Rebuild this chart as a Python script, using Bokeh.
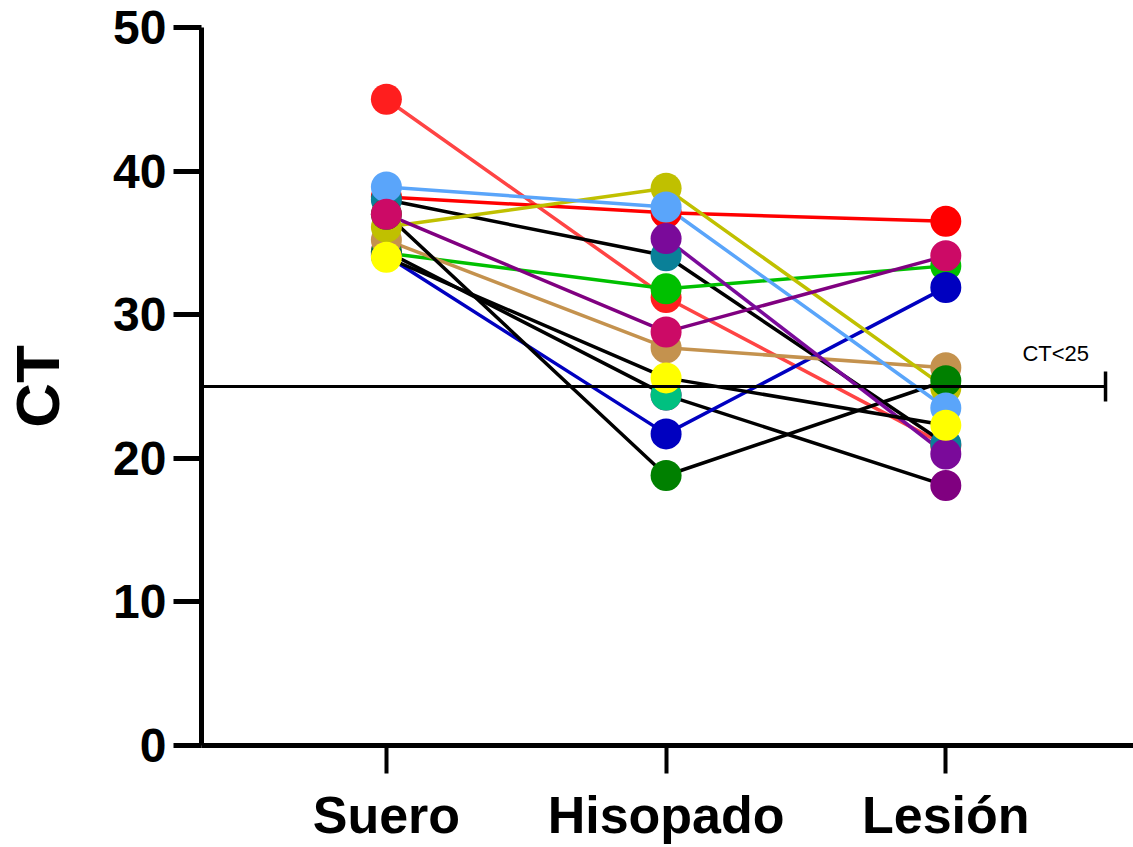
import math
from bokeh.plotting import figure
from bokeh.models import Range1d, FixedTicker
from bokeh.embed import file_html
from bokeh.resources import INLINE
from bokeh.core.properties import value

nan = float("nan")

# ---- data ----
categories = ["Suero", "Hisopado", "Lesión"]
y_ticks = [0, 10, 20, 30, 40, 50]
y_label = "CT"
umbral = 25
umbral_label = "CT<25"

rojo_claro = [45.0, 31.2, 20.9]
rojo = [38.2, 37.1, 36.5]
teal = [38.0, 34.1, 21.0]
canela = [35.2, 27.7, 26.3]
oliva = [36.1, 38.8, 24.9]
azul_claro = [38.9, 37.5, 23.5]
verde = [34.3, 31.8, 33.4]
azul = [34.1, 21.7, 31.9]
carmesi = [37.0, 28.8, 34.1]
purpura = [nan, 35.3, 20.3]
morado = [34.4, 24.4, 18.1]
verde_mar = [nan, 24.4, nan]
verde_oscuro = [37.0, 18.8, 25.4]
amarillo = [34.0, 25.6, 22.3]

# (values, marker colour, line colour) in drawing order
series = [
    (rojo_claro, "#FF1E1E", "#FF4444"),
    (rojo, "#FF0000", "#FF0000"),
    (teal, "#0A8098", "#000000"),
    (morado, "#800080", "#000000"),
    (verde, "#00C000", "#00C000"),
    (azul, "#0000C0", "#0000C0"),
    (canela, "#C4924E", "#C4924E"),
    (oliva, "#C0C000", "#C0C000"),
    (verde_oscuro, "#008000", "#000000"),
    (azul_claro, "#5AA5FA", "#5AA5FA"),
    (carmesi, "#CC0A66", "#800080"),
    (purpura, "#7A0A9A", "#7A0A9A"),
    (verde_mar, "#00C080", "#000000"),
    (amarillo, "#FFFF00", "#000000"),
]

xs = [i + 1 for i in range(len(categories))]

FONT = "Liberation Sans"

x_start, x_end = 0.339, 3.671
p = figure(width=1133, height=847, output_backend="svg", toolbar_location=None,
           x_range=Range1d(x_start, x_end), y_range=Range1d(y_ticks[0], y_ticks[-1]),
           min_border_left=200, min_border_top=27, min_border_bottom=102, min_border_right=0)
p.outline_line_color = None
p.grid.visible = False
p.background_fill_color = "white"
p.border_fill_color = "white"

# lines first
for vals, mc, lc in series:
    p.line(xs, vals, line_color=lc, line_width=3.5)
# markers
for vals, mc, lc in series:
    p.scatter(xs, vals, size=31, fill_color=mc, line_color=None)

# threshold line with end cap
x_cap = 3.571
p.segment(x0=[x_start], y0=[umbral], x1=[x_cap], y1=[umbral], line_color="black", line_width=3)
p.scatter([x_cap], [umbral], marker="dash", angle=math.pi / 2, size=30,
          line_color="black", line_width=3.5)
p.text([3.393], [umbral + 2.3], text=[umbral_label], text_font=value(FONT),
       text_font_size="22px", text_align="center", text_baseline="alphabetic",
       text_color="black")

# axes
xa = p.xaxis[0]
xa.ticker = FixedTicker(ticks=xs)
xa.major_label_overrides = {x: c for x, c in zip(xs, categories)}
xa.axis_line_width = 5
xa.axis_line_color = "black"
xa.major_tick_line_width = 4
xa.major_tick_out = 28
xa.major_tick_in = 0
xa.minor_tick_line_color = None
xa.major_label_text_font = FONT
xa.major_label_text_font_style = "bold"
xa.major_label_text_font_size = "52px"
xa.major_label_text_color = "black"
xa.major_label_standoff = 12

ya = p.yaxis[0]
ya.ticker = FixedTicker(ticks=y_ticks)
ya.axis_line_width = 5
ya.axis_line_color = "black"
ya.major_tick_line_width = 5
ya.major_tick_out = 28
ya.major_tick_in = 0
ya.minor_tick_line_color = None
ya.major_label_text_font = FONT
ya.major_label_text_font_style = "bold"
ya.major_label_text_font_size = "48px"
ya.major_label_text_color = "black"
ya.major_label_standoff = 7
ya.axis_label = y_label
ya.axis_label_text_font = FONT
ya.axis_label_text_font_style = "bold"
ya.axis_label_text_font_size = "62px"
ya.axis_label_text_color = "black"
ya.axis_label_standoff = 38

open("out.html", "w").write(file_html(p, INLINE))
